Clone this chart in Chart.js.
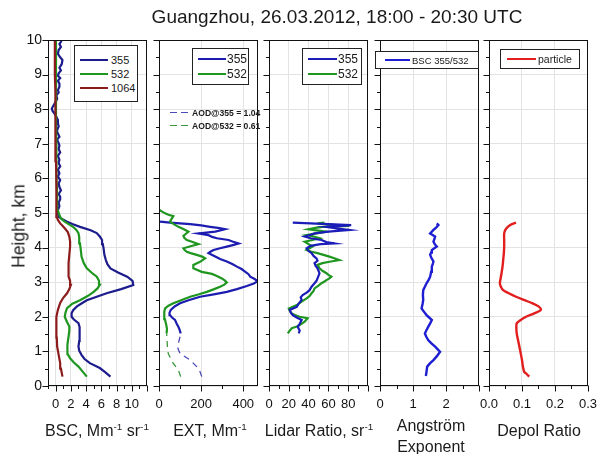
<!DOCTYPE html>
<html>
<head>
<meta charset="utf-8">
<script src="https://cdn.jsdelivr.net/npm/chart.js@4.4.1/dist/chart.umd.min.js"></script>
<style>
  body { margin: 0; background: #fff; font-family: 'Liberation Sans', Arial, sans-serif; }
  #wrap { position: relative; width: 608px; height: 454px; overflow: hidden; }
  #wrap canvas { position: absolute; left: 0; top: 0; }
  .t { position: absolute; white-space: nowrap; color: #1a1a1a; }
  .c { transform: translate(-50%, -50%); text-align: center; }
  .box { position: absolute; border: 1px solid #222; background: #fff; box-sizing: border-box; }
  .ln { position: absolute; height: 0; }
  sup { font-size: 62%; vertical-align: 0; position: relative; top: -0.6em; }
</style>
</head>
<body>
<div id="wrap">
  <canvas id="bsc" width="608" height="454"></canvas>
  <canvas id="ext" width="608" height="454"></canvas>
  <canvas id="lr" width="608" height="454"></canvas>
  <canvas id="ang" width="608" height="454"></canvas>
  <canvas id="dep" width="608" height="454"></canvas>
</div>
<script>
// ---- data (height in km) ----
const heightTicks = [0, 1, 2, 3, 4, 5, 6, 7, 8, 9, 10];
const bscTicks = [0, 2, 4, 6, 8, 10];
const extTicks = [0, 200, 400];
const lrTicks = [0, 20, 40, 60, 80];
const angTicks = [0, 1, 2];
const depTicks = [0.0, 0.1, 0.2, 0.3];

const bscH355 = [0.27,0.4,0.52,0.66,0.78,0.9,1.02,1.14,1.3,1.52,1.7,1.82,1.92,2.0,2.1,2.19,2.3,2.4,2.48,2.58,2.68,2.8,2.92,3.04,3.16,3.28,3.4,3.52,3.64,3.8,3.98,4.1,4.22,4.32,4.42,4.5,4.6,4.68,4.75,4.82,4.89,4.98,5.08,5.2,5.3,5.4,5.47,5.55,5.65,5.75,5.86,5.95,6.05,6.15,6.25,6.35,6.45,6.54,6.65,6.75,6.85,6.95,7.02,7.12,7.2,7.3,7.4,7.5,7.6,7.69,7.78,7.86,7.95,8.02,8.1,8.21,8.3,8.4,8.48,8.55,8.65,8.74,8.82,8.9,8.97,9.04,9.12,9.2,9.3,9.42,9.5,9.6,9.71,9.8,9.88,9.95,10.0];
const bsc355 = [7.2,6.5,5.8,4.5,3.8,3.4,3.1,3.0,3.1,3.2,3.1,3.0,2.4,2.1,2.1,2.3,2.8,3.5,4.1,5.4,6.7,8.6,10.2,10.1,9.4,8.2,7.2,6.8,6.6,6.4,6.3,6.2,6.1,5.8,5.4,4.6,3.2,2.2,1.5,0.9,0.4,0.3,0.3,0.5,0.4,0.6,0.6,0.4,0.7,0.5,0.4,0.6,0.3,0.5,0.3,0.6,0.4,0.5,0.3,0.6,0.4,0.5,0.4,0.2,0.5,0.3,0.2,0.4,0.3,0.3,0.1,-0.1,-0.4,-0.5,-0.3,0.0,0.2,0.1,0.4,0.3,0.5,0.5,0.3,0.6,0.3,0.4,0.7,0.5,0.8,0.9,0.6,0.3,0.4,0.7,0.5,0.7,0.8];
const bscH532 = [0.27,0.4,0.56,0.68,0.8,0.92,1.04,1.2,1.43,1.6,1.72,1.85,2.0,2.12,2.25,2.38,2.48,2.6,2.72,2.82,2.92,3.04,3.16,3.28,3.4,3.55,3.74,3.95,4.12,4.3,4.42,4.52,4.6,4.68,4.75,4.82,4.89,5.0,5.08,5.3,5.6,6.0,6.5,7.0,7.5,8.0,8.5,9.0,9.5,10.0];
const bsc532 = [4.1,3.6,3.0,2.4,1.9,1.6,1.5,1.6,1.7,1.8,1.8,1.5,1.2,1.3,1.5,2.2,3.2,4.2,5.0,5.5,5.8,5.7,5.4,4.7,4.1,3.7,3.4,3.3,3.2,3.1,3.0,2.7,2.3,1.7,1.2,0.8,0.6,0.4,0.3,0.2,0.2,0.1,0.1,0.1,0.05,0.05,0.05,0.05,0.05,0.05];
const bscH1064 = [0.27,0.5,0.66,0.9,1.14,1.4,1.62,1.85,2.0,2.2,2.4,2.55,2.68,2.8,2.92,3.04,3.16,3.35,3.55,3.8,4.03,4.18,4.32,4.45,4.56,4.63,4.7,4.8,4.89,5.0,5.5,6.0,6.5,7.0,7.5,8.0,8.5,9.0,9.5,10.0];
const bsc1064 = [0.9,0.7,0.6,0.4,0.2,0.15,0.1,0.1,0.1,0.3,0.6,1.0,1.5,1.8,2.0,1.9,1.7,1.7,1.7,1.8,1.9,1.9,1.8,1.6,1.2,0.9,0.6,0.3,0.15,0.1,0.1,0.1,0.05,0.0,0.0,-0.05,-0.05,-0.1,-0.1,-0.1];

const extH355 = [1.52,1.62,1.71,1.8,1.91,1.98,2.05,2.12,2.2,2.3,2.39,2.48,2.58,2.65,2.72,2.8,2.89,2.96,3.03,3.1,3.16,3.23,3.3,3.38,3.45,3.52,3.6,3.67,3.74,3.8,3.84,3.88,3.93,3.98,4.03,4.08,4.12,4.17,4.22,4.27,4.31,4.36,4.41,4.46,4.5,4.53,4.57,4.6,4.64,4.68,4.72,4.75];
const ext355 = [103,98,92,84,76,62,52,50,56,74,100,140,195,260,322,370,417,450,468,452,433,425,410,392,370,350,322,290,267,248,235,244,259,290,322,355,378,352,330,275,252,235,187,267,295,314,280,243,200,148,52,5];
const extH355low = [0.27,0.41,0.56,0.75,0.94,1.08,1.23,1.38,1.52];
const ext355low = [203,195,179,148,100,90,92,98,103];
const extH532 = [1.52,1.65,1.81,1.93,2.05,2.15,2.24,2.32,2.39,2.48,2.58,2.65,2.72,2.8,2.87,2.93,2.99,3.05,3.11,3.18,3.24,3.3,3.4,3.5,3.59,3.69,3.74,3.79,3.84,3.88,3.93,3.98,4.04,4.1,4.16,4.22,4.28,4.34,4.4,4.46,4.53,4.6,4.68,4.75,4.83,4.91,4.95,4.99,5.04,5.09];
const ext532 = [36,38,33,28,24,26,29,45,68,105,148,190,227,262,290,310,322,312,298,275,251,203,163,163,195,219,205,179,150,132,122,116,150,187,160,132,120,116,128,140,118,92,70,52,60,68,45,29,15,2];
const extH532low = [0.27,0.46,0.65,0.8,0.94,1.14,1.35,1.52];
const ext532low = [103,92,68,55,44,40,38,36];

const lrH355 = [1.52,1.6,1.71,1.8,1.91,1.98,2.05,2.12,2.2,2.29,2.38,2.49,2.56,2.63,2.7,2.77,2.87,2.97,3.04,3.11,3.18,3.26,3.33,3.4,3.48,3.55,3.62,3.69,3.76,3.84,3.9,3.98,4.05,4.1,4.12,4.16,4.22,4.27,4.32,4.37,4.41,4.46,4.51,4.55,4.6,4.63,4.65,4.68,4.72];
const lr355 = [30,31,29,31,33,28,24,22,21,28,30,33,32,34,38,41,43,46,48,49,50,51,50,49,47,46,49,48,45,43,40,38,42,52,66,58,53,42,36,42,46,60,81,70,58,74,83,60,24];
const lrH532 = [1.52,1.6,1.67,1.72,1.76,1.86,1.96,2.0,2.05,2.1,2.17,2.24,2.29,2.34,2.44,2.53,2.6,2.68,2.75,2.82,2.9,2.97,3.02,3.06,3.11,3.16,3.21,3.26,3.33,3.4,3.45,3.5,3.55,3.59,3.62,3.64,3.69,3.74,3.79,3.84,3.88,3.93,3.98,4.03,4.1,4.17,4.22,4.27,4.32,4.36,4.41,4.46,4.5,4.53,4.57,4.6,4.63,4.66,4.7,4.72];
const lr532 = [19,21,23,28,31,36,39,31,26,23,21,20,24,28,33,38,41,43,45,46,50,53,56,58,61,63,60,58,54,51,50,49,54,61,67,71,66,61,55,49,43,38,41,44,40,36,44,51,45,38,48,58,48,40,47,54,81,65,49,56];

const angH = [0.29,0.42,0.56,0.66,0.75,0.87,0.99,1.06,1.14,1.24,1.33,1.43,1.52,1.62,1.71,1.81,1.91,1.98,2.05,2.15,2.24,2.37,2.49,2.63,2.77,2.87,2.97,3.06,3.16,3.3,3.45,3.53,3.6,3.7,3.79,3.86,3.93,4.03,4.1,4.17,4.25,4.32,4.41,4.51,4.58,4.65,4.7];
const ang = [1.39,1.41,1.43,1.52,1.62,1.73,1.82,1.75,1.67,1.55,1.46,1.40,1.36,1.41,1.46,1.52,1.57,1.49,1.41,1.33,1.26,1.29,1.31,1.30,1.31,1.36,1.41,1.47,1.52,1.55,1.57,1.60,1.62,1.56,1.52,1.55,1.57,1.72,1.66,1.62,1.65,1.67,1.52,1.62,1.70,1.77,1.72];

const depH = [0.27,0.34,0.41,0.55,0.75,0.95,1.14,1.33,1.52,1.66,1.81,1.9,2.0,2.1,2.2,2.3,2.39,2.48,2.58,2.68,2.77,2.87,2.97,3.1,3.26,3.45,3.64,3.84,4.03,4.22,4.41,4.52,4.6,4.67,4.72];
const dep = [0.122,0.115,0.107,0.103,0.100,0.096,0.092,0.088,0.084,0.083,0.084,0.095,0.112,0.137,0.157,0.150,0.132,0.108,0.082,0.060,0.043,0.036,0.033,0.035,0.038,0.041,0.043,0.045,0.046,0.046,0.046,0.050,0.057,0.068,0.082];

// ---- drawing ----
Chart.defaults.font.family = "'Liberation Sans', Arial, sans-serif";
Chart.defaults.color = '#111';

const pts = (h, v) => h.map((y, i) => ({ x: v[i], y: y }));
const line = (data, color, extra) => Object.assign({
  data: data, borderColor: color, borderWidth: 2.2, pointRadius: 0, showLine: true, fill: false
}, extra || {});

// frame box + major/minor tick marks, drawn outward
const frame = {
  id: 'frame',
  afterDraw(chart, args, o) {
    const { ctx, chartArea: a, scales: { x, y } } = chart;
    const L = Math.round(a.left) + 0.5, R = Math.round(a.right) - 0.5;
    const T = Math.round(a.top) + 0.5, B = Math.round(a.bottom) - 0.5;
    ctx.save();
    ctx.strokeStyle = '#111';
    ctx.lineWidth = 1;
    ctx.beginPath();
    for (let i = 0; i <= 20; i++) {
      const p = Math.round(y.getPixelForValue(i / 2)) + 0.5;
      ctx.moveTo(L, p);
      ctx.lineTo(L - (i % 2 ? 3.5 : 6), p);
    }
    const n0 = Math.ceil(x.min / o.minor - 1e-6), n1 = Math.floor(x.max / o.minor + 1e-6);
    for (let n = n0; n <= n1; n++) {
      const p = Math.round(x.getPixelForValue(n * o.minor)) + 0.5;
      ctx.moveTo(p, B);
      ctx.lineTo(p, B + (n % 2 ? 3.5 : 6));
    }
    ctx.stroke();
    ctx.strokeRect(L, T, R - L, B - T);
    ctx.restore();
  }
};

function panel(id, left, right, xMin, xMax, xTicks, minor, datasets, showY, fmt) {
  const top = 40, bottom = 386, xH = 30, yW = showY ? 30 : 0;
  return new Chart(document.getElementById(id), {
    type: 'scatter',
    data: { datasets: datasets },
    plugins: [frame],
    options: {
      responsive: false,
      animation: false,
      devicePixelRatio: 1,
      layout: { padding: { left: left - yW, right: 608 - right, top: top, bottom: 454 - bottom - xH } },
      plugins: { legend: { display: false }, tooltip: { enabled: false }, frame: { minor: minor } },
      scales: {
        x: {
          type: 'linear', min: xMin, max: xMax,
          afterBuildTicks: s => { s.ticks = xTicks.map(v => ({ value: v })); },
          afterFit: s => { s.height = xH; },
          grid: { color: '#e3e3e3', drawTicks: false },
          border: { display: false },
          ticks: { font: { size: 13 }, padding: 11, autoSkip: false, maxRotation: 0,
                   callback: v => fmt ? fmt(v) : String(v) }
        },
        y: {
          type: 'linear', min: 0, max: 10,
          afterBuildTicks: s => { s.ticks = heightTicks.map(v => ({ value: v })); },
          afterFit: s => { s.width = yW; },
          grid: { color: '#e3e3e3', drawTicks: false },
          border: { display: false },
          ticks: { display: showY, font: { size: 14 }, padding: 6 }
        }
      }
    }
  });
}

panel('bsc', 48, 147, -1, 12, bscTicks, 1, [
  line(pts(bscH1064, bsc1064), '#8c1c1c'),
  line(pts(bscH532, bsc532), '#1f961f'),
  line(pts(bscH355, bsc355), '#1c1c8c')
], true);

panel('ext', 159, 258, 0, 470, extTicks, 100, [
  line(pts(extH355low, ext355low), '#4a4ab8', { borderWidth: 1.3, borderDash: [6, 5] }),
  line(pts(extH532low, ext532low), '#3c963c', { borderWidth: 1.3, borderDash: [6, 5] }),
  line(pts(extH532, ext532), '#1f961f'),
  line(pts(extH355, ext355), '#1c1cb0')
], false);

panel('lr', 269, 368, 0, 100, lrTicks, 10, [
  line(pts(lrH355, lr355), '#1c1cb8'),
  line(pts(lrH532, lr532), '#1f961f')
], false);

panel('ang', 380, 479, 0, 3, angTicks, 0.5, [
  line(pts(angH, ang), '#1e1ed2', { borderWidth: 2.4 })
], false);

panel('dep', 489, 590, 0, 0.3, depTicks, 0.05, [
  line(pts(depH, dep), '#e21e1e', { borderWidth: 2.4, tension: 0.3 })
], false, v => v.toFixed(1));

// ---- text: titles, axis titles, legends ----
const wrap = document.getElementById('wrap');
function text(html, x, y, size, extra) {
  const d = document.createElement('div');
  d.className = 't c';
  d.style.left = x + 'px';
  d.style.top = y + 'px';
  d.style.fontSize = size + 'px';
  if (extra) Object.assign(d.style, extra);
  d.innerHTML = html;
  wrap.appendChild(d);
  return d;
}
text('Guangzhou, 26.03.2012, 18:00 - 20:30 UTC', 337, 17, 19);
text('Height, km', 19, 226, 17.5, { transform: 'translate(-50%, -50%) rotate(-90deg)' });
text('BSC, Mm<sup>-1</sup> sr<sup>-1</sup>', 97, 431, 16);
text('EXT, Mm<sup>-1</sup>', 210, 431, 16);
text('Lidar Ratio, sr<sup>-1</sup>', 319, 431, 16);
text('Angström<br>Exponent', 431, 436, 16, { lineHeight: '21px' });
text('Depol Ratio', 539, 431, 16);

function legend(x, y, w, h, size, lx1, lx2, tx, rows) {
  const b = document.createElement('div');
  b.className = 'box';
  Object.assign(b.style, { left: x + 'px', top: y + 'px', width: w + 'px', height: h + 'px' });
  wrap.appendChild(b);
  rows.forEach(r => {
    const l = document.createElement('div');
    l.className = 'ln';
    Object.assign(l.style, { left: lx1 + 'px', top: (r[2] - 1) + 'px', width: (lx2 - lx1) + 'px',
      borderTop: '2px solid ' + r[1] });
    wrap.appendChild(l);
    const t = document.createElement('div');
    t.className = 't';
    Object.assign(t.style, { left: tx + 'px', top: r[2] + 'px', fontSize: size + 'px',
      transform: 'translateY(-50%)', color: '#1a1a1a' });
    t.textContent = r[0];
    wrap.appendChild(t);
  });
}
legend(74, 45, 64, 57, 11, 80, 108, 111, [['355', '#1c1c8c', 60], ['532', '#1f961f', 74], ['1064', '#8c1c1c', 88]]);
legend(192, 48, 57, 37, 12, 198, 226, 227, [['355', '#1c1cb0', 59], ['532', '#1f961f', 74]]);
legend(302, 48, 60, 37, 12, 308, 337, 338, [['355', '#1c1cb8', 59], ['532', '#1f961f', 74]]);
legend(375, 51, 104, 18, 9.5, 385, 410, 412, [['BSC 355/532', '#1e1ed2', 60]]);
legend(500, 49, 80, 20, 10.5, 507, 536, 538, [['particle', '#e21e1e', 59]]);

// AOD note inside the EXT panel (no box)
function note(label, color, y) {
  [170, 181].forEach(x0 => {
    const l = document.createElement('div');
    l.className = 'ln';
    Object.assign(l.style, { left: x0 + 'px', top: (y - 1) + 'px', width: '7px', borderTop: '1.5px solid ' + color });
    wrap.appendChild(l);
  });
  const t = document.createElement('div');
  t.className = 't';
  Object.assign(t.style, { left: '192px', top: y + 'px', fontSize: '8.6px', fontWeight: 'bold',
    transform: 'translateY(-50%)', color: '#1a1a1a' });
  t.textContent = label;
  wrap.appendChild(t);
}
note('AOD@355 = 1.04', '#4a4ab8', 113);
note('AOD@532 = 0.61', '#3c963c', 126);
</script>
</body>
</html>
